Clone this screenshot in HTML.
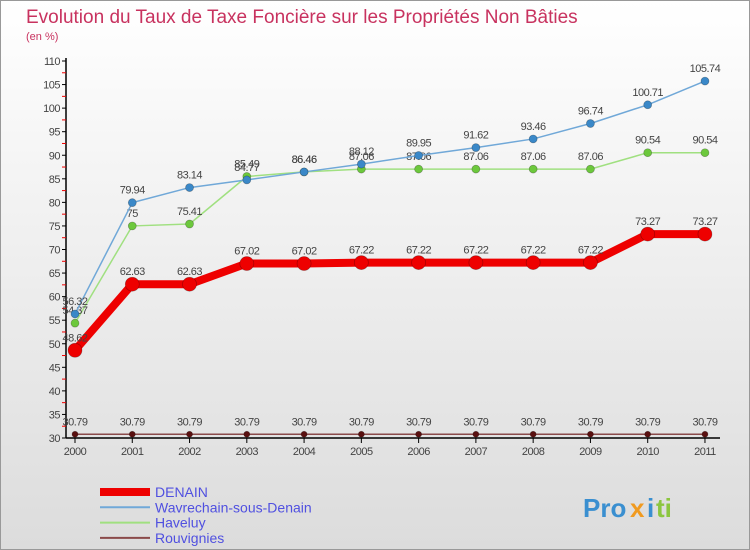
<!DOCTYPE html>
<html><head><meta charset="utf-8"><style>
body{margin:0;width:750px;height:550px;overflow:hidden;font-family:"Liberation Sans",sans-serif}
svg{display:block}
</style></head><body>
<svg id="c" width="750" height="550" xmlns="http://www.w3.org/2000/svg">
<defs><linearGradient id="bg" x1="0" y1="0" x2="0" y2="1"><stop offset="0" stop-color="#ffffff"/><stop offset="1" stop-color="#dcdcdc"/></linearGradient></defs>
<rect x="0.5" y="0.5" width="749" height="549" fill="url(#bg)" stroke="#999"/>
<text x="26" y="23" font-size="19" fill="#c8325f">Evolution du Taux de Taxe Foncière sur les Propriétés Non Bâties</text>
<text x="26" y="40" font-size="11" fill="#c8325f">(en %)</text>
<g id="axes"></g>
<g id="series"></g>
<g id="legend"></g>
<g font-size="26" font-weight="bold">
<text x="583" y="517" fill="#3a8fd0">Pro</text><text x="630" y="517" fill="#f09a20">x</text><text x="647" y="517" fill="#3a8fd0">i</text><text x="656" y="517" fill="#8cc63f">ti</text>
</g>
</svg>
<script>
const years=["2000","2001","2002","2003","2004","2005","2006","2007","2008","2009","2010","2011"];
const denain=[48.62,62.63,62.63,67.02,67.02,67.22,67.22,67.22,67.22,67.22,73.27,73.27];
const wavrechain=[56.32,79.94,83.14,84.77,86.46,88.12,89.95,91.62,93.46,96.74,100.71,105.74];
const haveluy=[54.37,75,75.41,85.49,86.46,87.06,87.06,87.06,87.06,87.06,90.54,90.54];
const rouvignies=[30.79,30.79,30.79,30.79,30.79,30.79,30.79,30.79,30.79,30.79,30.79,30.79];
const yTicks=[30,35,40,45,50,55,60,65,70,75,80,85,90,95,100,105,110];
const NS="http://www.w3.org/2000/svg";
const X=i=>75+i*57.27, Y=v=>438-(v-30)*4.7125;
function mk(t,a,p){const e=document.createElementNS(NS,t);for(const k in a)e.setAttribute(k,a[k]);(p||document.getElementById('series')).appendChild(e);return e;}
const ax=document.getElementById('axes');
let l=mk('line',{x1:66,y1:58,x2:66,y2:438,stroke:'#000','stroke-width':1.5},ax);

l=mk('line',{x1:66,y1:438,x2:720,y2:438,stroke:'#000','stroke-width':1.5},ax);

yTicks.forEach(v=>{
 const y=Y(v);
 mk('line',{x1:62,y1:y,x2:66,y2:y,stroke:'#000'},ax);
 if(v<110)mk('line',{x1:62,y1:Y(v+2.5),x2:66,y2:Y(v+2.5),stroke:'#e00'},ax);
 const t=mk('text',{x:60,y:y+4,'font-size':11,fill:'#444','text-anchor':'end','letter-spacing':'-0.5'},ax);
 t.textContent=v;
 
});
years.forEach((yr,i)=>{
 mk('line',{x1:X(i),y1:438,x2:X(i),y2:443,stroke:'#000'},ax);
 const t=mk('text',{x:X(i),y:455,'font-size':11,fill:'#444','text-anchor':'middle','letter-spacing':'-0.5'},ax);
 t.textContent=yr;
 
});
function series(name,data,color,w,r,dot){
 const g=mk('g',{});
 
 mk('polyline',{points:data.map((v,i)=>X(i)+','+Y(v)).join(' '),fill:'none',stroke:color,'stroke-width':w,'stroke-linejoin':'round'},g);
 data.forEach((v,i)=>{
  const c=mk('circle',{cx:X(i),cy:Y(v),r:r,fill:dot,stroke:'rgba(0,0,0,0.3)','stroke-width':0.7},g);
  
  const t=mk('text',{x:X(i),y:Y(v)-9,'font-size':11,fill:'#444','text-anchor':'middle','letter-spacing':'-0.5'},g);
  t.textContent=String(v);
  
 });
}
series('rouvignies',rouvignies,'#8a4a4a',1.5,3,'#5a1010');
series('haveluy',haveluy,'#a0e080',1.5,4,'#6cc83c');
series('wavrechain',wavrechain,'#70a8d8',1.5,4,'#3a88c8');
series('denain',denain,'#ee0000',8,7,'#ee0000');
const lg=document.getElementById('legend');
[['DENAIN','#ee0000',8],['Wavrechain-sous-Denain','#70a8d8',2],['Haveluy','#a0e080',2],['Rouvignies','#8a4a4a',2]].forEach((d,i)=>{
 const y=492+i*15.3;
 const g=mk('g',{},lg);
 
 mk('line',{x1:100,y1:y,x2:150,y2:y,stroke:d[1],'stroke-width':d[2]},g);
 const t=mk('text',{x:155,y:y+5,'font-size':14,fill:'#5050e0'},g);t.textContent=d[0];
});
</script>
</body></html>
